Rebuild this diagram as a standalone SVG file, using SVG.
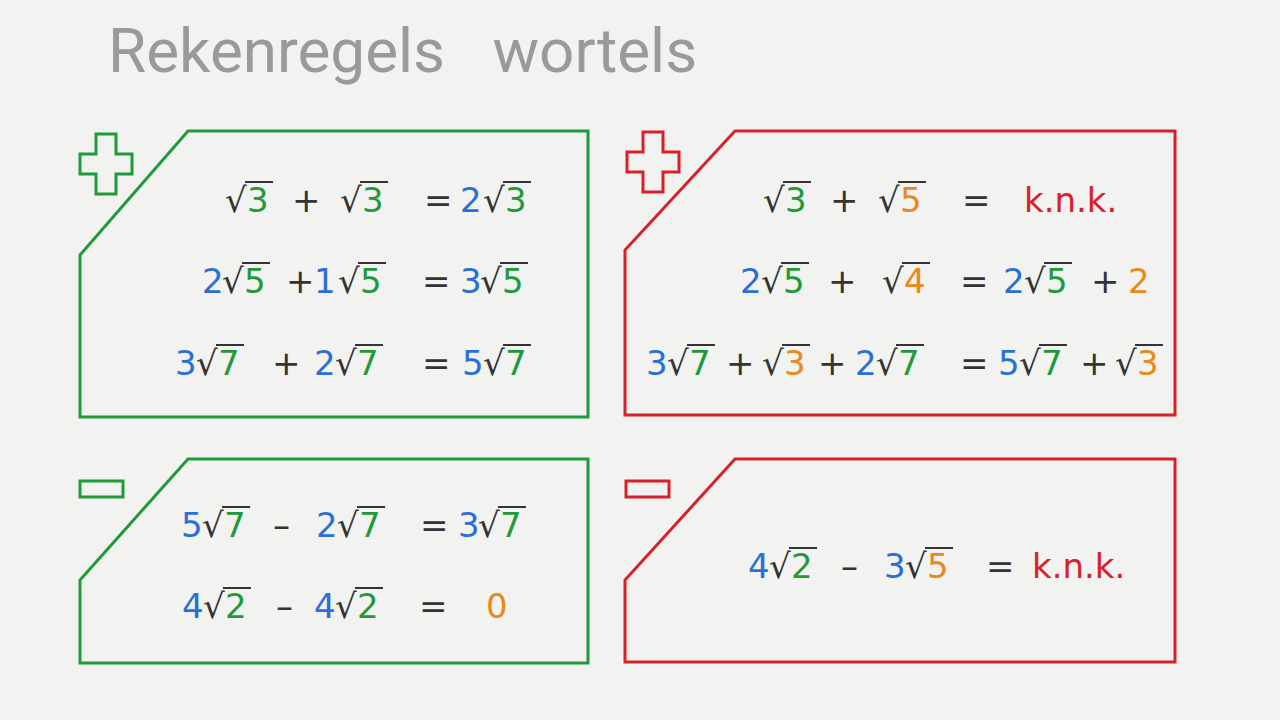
<svg xmlns="http://www.w3.org/2000/svg" width="1280" height="720" viewBox="0 0 1280 720">
<style>
.t{font-family:"DejaVu Sans",sans-serif;font-size:34px}
.d{fill:#333}.b{fill:#2a6fd6}.g{fill:#1e9a3a}.o{fill:#e8891a}.r{fill:#d8202a}
.ol{stroke:#333;stroke-width:2}
.gb{fill:none;stroke:#1e9a3a;stroke-width:3}
.rb{fill:none;stroke:#d8202a;stroke-width:3}
</style>
<rect width="1280" height="720" fill="#f2f2f0"/>
<text x="108" y="72" font-family="Roboto,sans-serif" font-size="62" fill="#9a9a9a" word-spacing="32">Rekenregels wortels</text>
<g id="box-green-plus">
<polygon class="gb" points="188,131 588,131 588,417 80,417 80,255"/>
<path class="gb" d="M96,134h20v20h16v20h-16v20h-20v-20h-16v-20h16z"/>
</g>
<g id="box-red-plus">
<polygon class="rb" points="735,131 1175,131 1175,415 625,415 625,250"/>
<path class="rb" d="M643,132h20v20h16v20h-16v20h-20v-20h-16v-20h16z"/>
</g>
<g id="box-green-minus">
<polygon class="gb" points="188,459 588,459 588,663 80,663 80,580"/>
<rect class="gb" x="80" y="481" width="43" height="16"/>
</g>
<g id="box-red-minus">
<polygon class="rb" points="735,459 1175,459 1175,662 625,662 625,580"/>
<rect class="rb" x="626" y="481" width="43" height="16"/>
</g>
<g id="connectors"/>
<g class="t">
<text y="212"><tspan x="225" class="d">√</tspan><tspan x="247" class="g">3</tspan><tspan x="292" class="d">+</tspan><tspan x="340" class="d">√</tspan><tspan x="362" class="g">3</tspan><tspan x="424" class="d">=</tspan><tspan x="460" class="b">2</tspan><tspan x="483" class="d">√</tspan><tspan x="505" class="g">3</tspan></text>
<text y="293"><tspan x="202" class="b">2</tspan><tspan x="222" class="d">√</tspan><tspan x="244" class="g">5</tspan><tspan x="286" class="d">+</tspan><tspan x="314" class="b">1</tspan><tspan x="338" class="d">√</tspan><tspan x="360" class="g">5</tspan><tspan x="422" class="d">=</tspan><tspan x="460" class="b">3</tspan><tspan x="480" class="d">√</tspan><tspan x="502" class="g">5</tspan></text>
<text y="375"><tspan x="175" class="b">3</tspan><tspan x="196" class="d">√</tspan><tspan x="218" class="g">7</tspan><tspan x="272" class="d">+</tspan><tspan x="314" class="b">2</tspan><tspan x="335" class="d">√</tspan><tspan x="357" class="g">7</tspan><tspan x="422" class="d">=</tspan><tspan x="462" class="b">5</tspan><tspan x="483" class="d">√</tspan><tspan x="505" class="g">7</tspan></text>
<text y="537"><tspan x="181" class="b">5</tspan><tspan x="202" class="d">√</tspan><tspan x="224" class="g">7</tspan><tspan x="273" class="d">–</tspan><tspan x="316" class="b">2</tspan><tspan x="337" class="d">√</tspan><tspan x="359" class="g">7</tspan><tspan x="420" class="d">=</tspan><tspan x="458" class="b">3</tspan><tspan x="478" class="d">√</tspan><tspan x="500" class="g">7</tspan></text>
<text y="618"><tspan x="182" class="b">4</tspan><tspan x="203" class="d">√</tspan><tspan x="225" class="g">2</tspan><tspan x="276" class="d">–</tspan><tspan x="314" class="b">4</tspan><tspan x="335" class="d">√</tspan><tspan x="357" class="g">2</tspan><tspan x="419" class="d">=</tspan><tspan x="486" class="o">0</tspan></text>
<text y="212"><tspan x="763" class="d">√</tspan><tspan x="785" class="g">3</tspan><tspan x="830" class="d">+</tspan><tspan x="878" class="d">√</tspan><tspan x="900" class="o">5</tspan><tspan x="962" class="d">=</tspan><tspan x="1024" class="r">k.n.k.</tspan></text>
<text y="293"><tspan x="740" class="b">2</tspan><tspan x="761" class="d">√</tspan><tspan x="783" class="g">5</tspan><tspan x="828" class="d">+</tspan><tspan x="882" class="d">√</tspan><tspan x="904" class="o">4</tspan><tspan x="960" class="d">=</tspan><tspan x="1003" class="b">2</tspan><tspan x="1024" class="d">√</tspan><tspan x="1046" class="g">5</tspan><tspan x="1091" class="d">+</tspan><tspan x="1128" class="o">2</tspan></text>
<text y="375"><tspan x="646" class="b">3</tspan><tspan x="667" class="d">√</tspan><tspan x="689" class="g">7</tspan><tspan x="726" class="d">+</tspan><tspan x="762" class="d">√</tspan><tspan x="784" class="o">3</tspan><tspan x="818" class="d">+</tspan><tspan x="855" class="b">2</tspan><tspan x="876" class="d">√</tspan><tspan x="898" class="g">7</tspan><tspan x="960" class="d">=</tspan><tspan x="998" class="b">5</tspan><tspan x="1019" class="d">√</tspan><tspan x="1041" class="g">7</tspan><tspan x="1080" class="d">+</tspan><tspan x="1115" class="d">√</tspan><tspan x="1137" class="o">3</tspan></text>
<text y="578"><tspan x="748" class="b">4</tspan><tspan x="769" class="d">√</tspan><tspan x="791" class="g">2</tspan><tspan x="841" class="d">–</tspan><tspan x="884" class="b">3</tspan><tspan x="905" class="d">√</tspan><tspan x="927" class="o">5</tspan><tspan x="986" class="d">=</tspan><tspan x="1032" class="r">k.n.k.</tspan></text>
</g>
<g class="ol">
<path d="M245,182h28M360,182h28M503,182h28M242,263h28M358,263h28M500,263h28M216,345h28M355,345h28M503,345h28M222,507h28M357,507h28M498,507h28M223,588h28M355,588h28M783,182h28M898,182h28M781,263h28M902,263h28M1044,263h28M687,345h28M782,345h28M896,345h28M1039,345h28M1135,345h28M789,548h28M925,548h28"/>
</g>
</svg>
